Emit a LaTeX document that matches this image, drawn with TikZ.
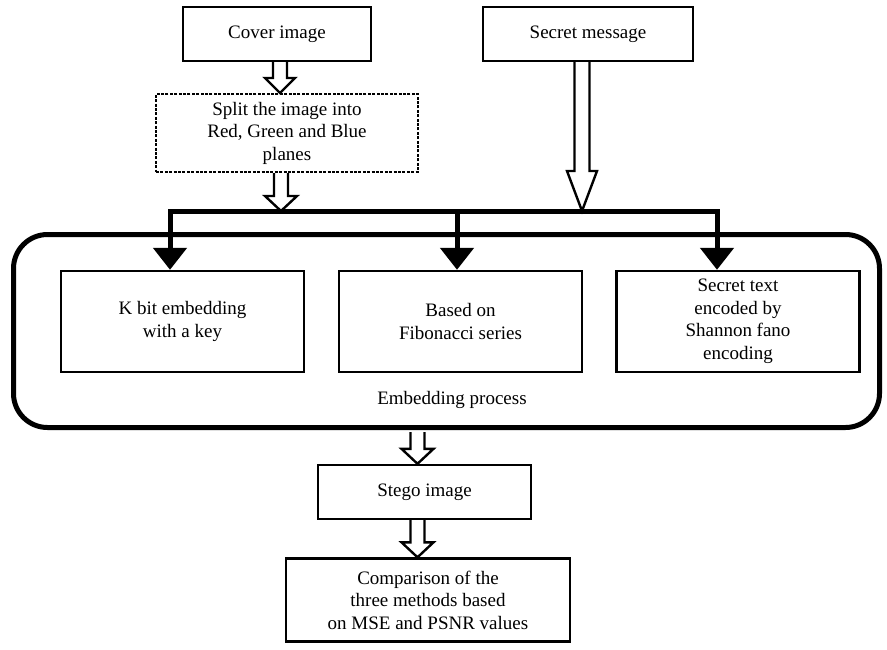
\documentclass[tikz,border=0pt]{standalone}
\usepackage{fontspec}
\setmainfont{Liberation Serif}
\usetikzlibrary{calc,arrows.meta}
\newcommand\bodyfont{\fontsize{19}{22.5}\selectfont}
\tikzset{
  box/.style={draw, line width=2.4pt, inner sep=0pt, align=center, font=\bodyfont},
  dashbox/.style={draw, line width=2pt, dash pattern=on 3pt off 1.4pt, inner sep=0pt, align=center, font=\bodyfont},
  bigbox/.style={draw, line width=5pt, rounded corners=34pt, inner sep=0pt},
  lbl/.style={inner sep=0pt, font=\bodyfont},
  hollow/.style={draw, line width=2.4pt, line join=miter},
  busline/.style={line width=5pt, line cap=rect},
  blackarrow/.style={line width=5pt, -{Triangle[width=33pt,length=22pt]}},
}
% #1 start, #2 end (only its y is used), #3 shaft half width, #4 head half width, #5 head length
\newcommand\hollowarrow[5]{%
  \draw[hollow] let \p1=#1, \p2=#2 in
    (\x1-#3,\y1) -- (\x1-#3,\y2+#5) -- (\x1-#4,\y2+#5) -- (\x1,\y2)
    -- (\x1+#4,\y2+#5) -- (\x1+#3,\y2+#5) -- (\x1+#3,\y1);}
\begin{document}
\begin{tikzpicture}[x=1pt,y=-1pt]
\useasboundingbox (0,0) rectangle (887,649);

% top boxes
\node[box, minimum width=188pt, minimum height=54pt] (cover) at (277,34) {Cover image};
\node[box, minimum width=210pt, minimum height=54pt] (secret) at (588,34) {Secret message};
\node[dashbox, minimum width=262pt, minimum height=78pt] (split) at (287,133)
  {Split the image into\\Red, Green and Blue\\planes};

% bus
\coordinate (busL) at (170,211);
\coordinate (busM) at (457,211);
\coordinate (busR) at (717,211);

% embedding process
\node[bigbox, minimum width=866pt, minimum height=193pt] (embed) at (446.5,331) {};
\node[box, minimum width=243pt, minimum height=101pt] (kbit) at (182.5,321.5)
  {K bit embedding\\with a key};
\node[box, minimum width=243pt, minimum height=101pt] (fib) at (460.5,321.5)
  {Based on\\Fibonacci series};
\node[box, minimum width=243pt, minimum height=101pt] (shannon) at (738,321.5)
  {Secret text\\encoded by\\Shannon fano\\encoding};
\node[lbl] (embedlbl) at (452,400) {Embedding process};

% bottom boxes
\node[box, minimum width=213pt, minimum height=54pt] (stego) at (424.5,492) {Stego image};
\node[box, minimum width=284pt, minimum height=83pt] (comp) at (428,600)
  {Comparison of the\\three methods based\\on MSE and PSNR values};

% hollow arrows
\hollowarrow{($(cover.south)+(3,0)$)}{(split.north)}{7pt}{15pt}{15pt}
\hollowarrow{($(split.south)+(-6,0)$)}{(busL)}{7pt}{16pt}{15pt}
\hollowarrow{($(secret.south)+(-6,0)$)}{(busR)}{7.5pt}{15pt}{40pt}
\hollowarrow{($(stego.north |- embed.south)+(-7,2)$)}{(stego.north)}{7pt}{16pt}{15pt}
\hollowarrow{($(stego.south)+(-7,0)$)}{(comp.north)}{7pt}{16pt}{15pt}

% bus and black arrows
\draw[busline] (busL) -- (busR);
\draw[blackarrow] (busL) -- (busL |- kbit.north);
\draw[blackarrow] (busM) -- (busM |- fib.north);
\draw[blackarrow] (busR) -- (busR |- shannon.north);
\end{tikzpicture}
\end{document}
